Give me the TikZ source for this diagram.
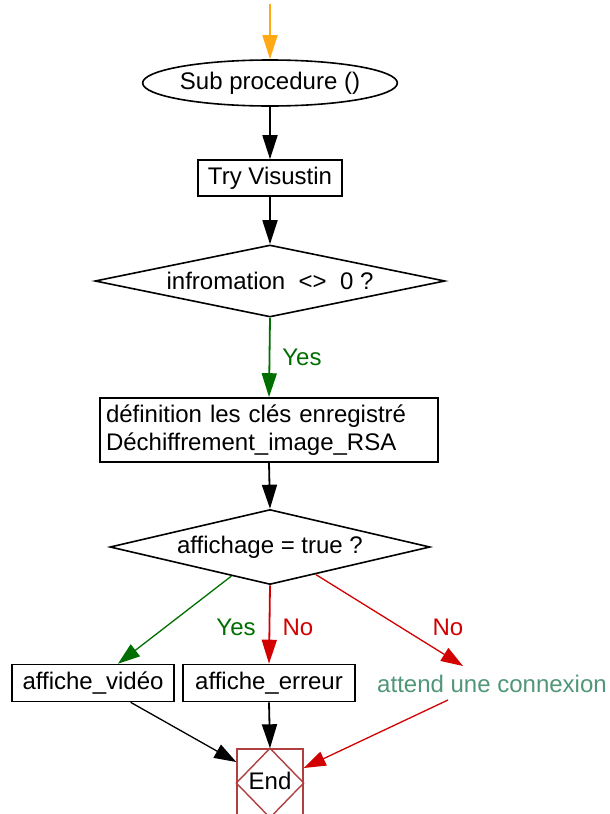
\documentclass[tikz,border=0pt]{standalone}
\usepackage{fontspec}
\setmainfont{Liberation Sans}
\usetikzlibrary{shapes.geometric,arrows.meta,calc}

\definecolor{flowgreen}{RGB}{0,110,0}
\definecolor{flowred}{RGB}{210,0,0}
\definecolor{flowteal}{RGB}{80,150,120}
\definecolor{flowend}{RGB}{176,64,64}
\definecolor{floworange}{RGB}{255,170,20}

\tikzset{
  every node/.style={font=\fontsize{24}{28}\selectfont, inner sep=0pt},
  procbox/.style={draw, line width=1.6pt, rectangle, anchor=center},
  decision/.style={draw, line width=1.6pt, diamond, inner sep=0pt},
  flow/.style={line width=1.8pt, -{Triangle[length=24pt,width=15pt]}},
  thinflow/.style={line width=1.3pt, -{Triangle[length=22pt,width=15pt]}},
}

\begin{document}
\begin{tikzpicture}[x=1pt,y=-1pt]
  \useasboundingbox (0,0) rectangle (610,814);

  % entry point and start terminal
  \coordinate (entry) at (270,4);
  \node[draw, line width=1.6pt, ellipse, minimum width=216pt, minimum height=46pt] (start) at (270,83) {Sub procedure ()};

  % main sequence
  \node[procbox, minimum width=144pt, minimum height=36pt] (try) at (270,178) {Try Visustin};
  \node[decision, aspect=4.86, minimum width=350pt, minimum height=72pt] (d1) at (270,281) {infromation\ \ <>\ \ 0 ?};
  \node[procbox, minimum width=338pt, minimum height=64pt, align=left, text width=326pt] (keys) at (269,430)
    {définition les clés enregistré\\Déchiffrement\_image\_RSA};
  \node[decision, aspect=4.27, minimum width=320pt, minimum height=75pt] (d2) at (270,547) {affichage = true ?};

  % outcomes
  \node[procbox, minimum width=162pt, minimum height=37pt] (video) at (93,683) {affiche\_vidéo};
  \node[procbox, minimum width=172pt, minimum height=37pt] (erreur) at (269,683) {affiche\_erreur};
  \node[text=flowteal] (attend) at (492,684) {attend une connexion};
  \coordinate (attendin) at (463,666);
  \coordinate (attendout) at (448,700);

  % end terminal: square with inscribed diamond
  \node[draw=flowend, line width=1.4pt, minimum width=66pt, minimum height=68pt] (end) at (270,783) {};
  \draw[flowend, line width=1.4pt] (end.north) -- (end.east) -- (end.south) -- (end.west) -- cycle;
  \node at (270,781) {End};

  % connectors
  \draw[flow, floworange] (entry) -- (start.north);
  \draw[flow] (start.south) -- (try.north);
  \draw[flow] (try.south) -- (d1.north);
  \draw[flow, flowgreen] (d1.south) -- node[right=12pt, text=flowgreen] {Yes} (keys.north);
  \draw[flow] (keys.south) -- (d2.north);

  \draw[thinflow, flowgreen] (d2.217) -- (video.north east -| 118,0);
  \draw[flow, flowred] (d2.south) -- (erreur.north);
  \draw[thinflow, flowred] (d2.329) -- (attendin);
  \node[text=flowgreen] (yes2) at (236,627) {Yes};
  \node[text=flowred] (no1) at (298,627) {No};
  \node[text=flowred] (no2) at (448,627) {No};

  \draw[thinflow] ($(video.south west)!0.73!(video.south east)$) -- (end.west |- 0,762);
  \draw[flow] (erreur.south) -- (end.north);
  \draw[thinflow, flowred] (attendout) -- (end.east |- 0,768);
\end{tikzpicture}
\end{document}
